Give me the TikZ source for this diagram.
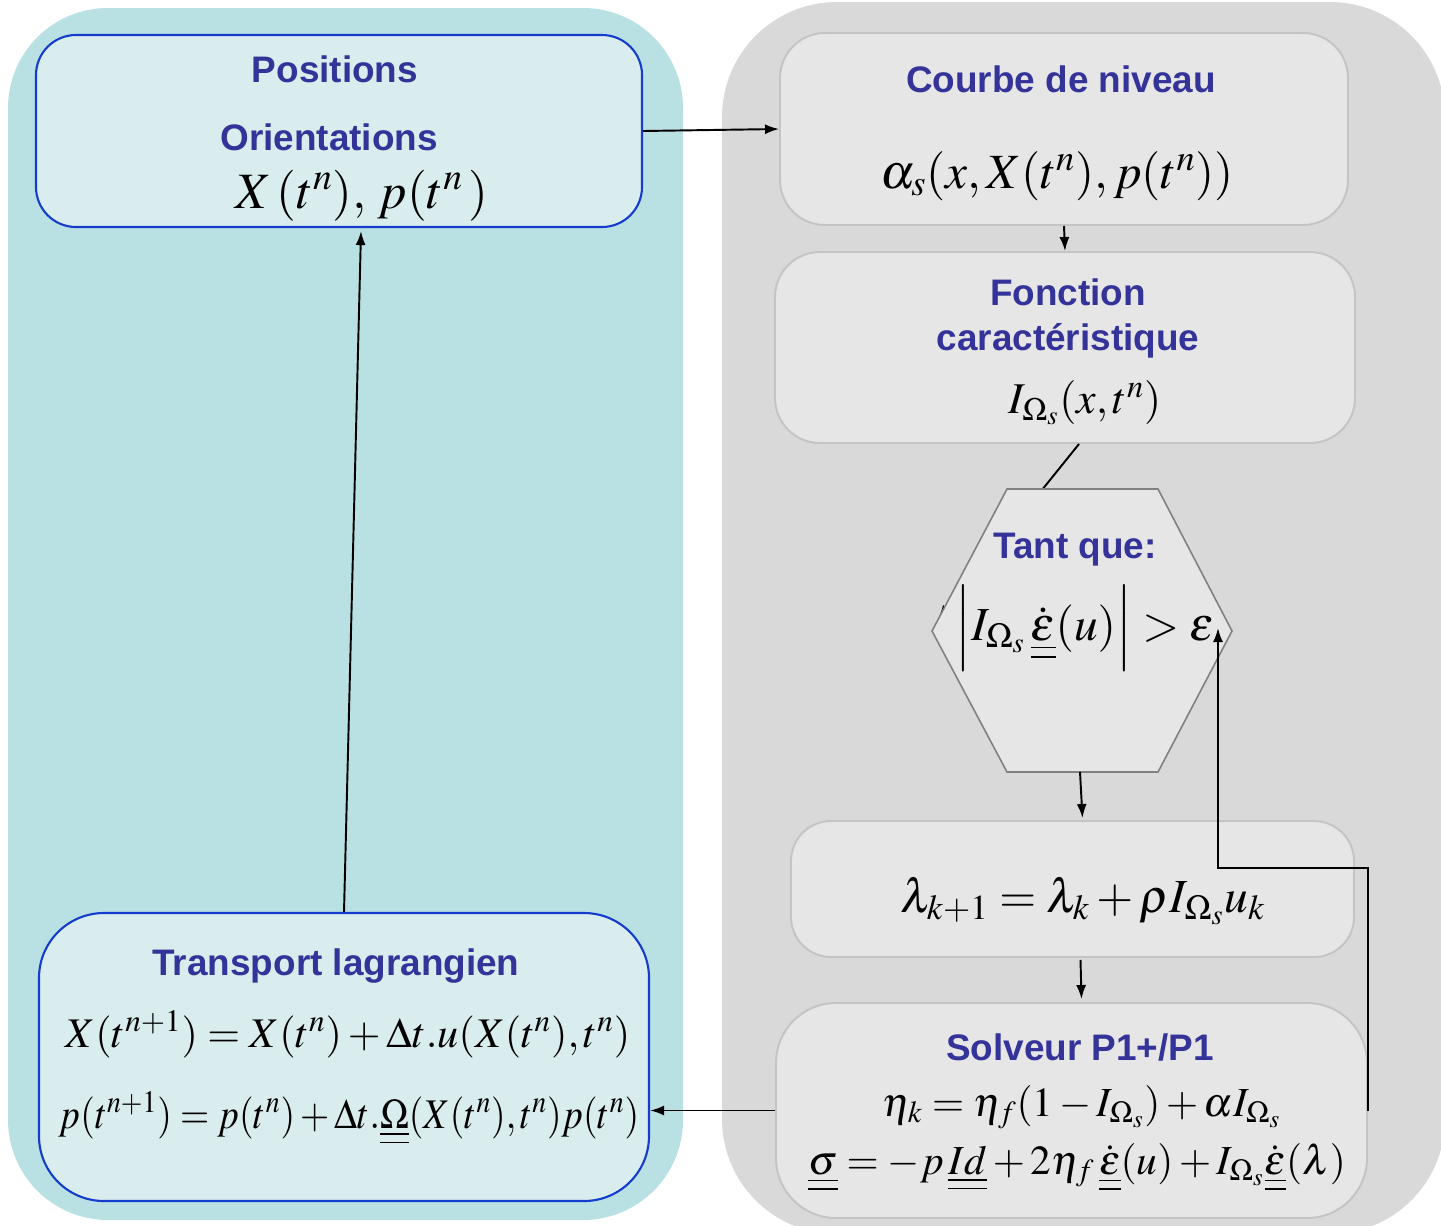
\documentclass[tikz,border=0pt]{standalone}
\usepackage{mathptmx}
\usepackage[no-math]{fontspec}
\setmainfont{Liberation Sans}
\usetikzlibrary{arrows.meta,calc}

\definecolor{leftpanel}{RGB}{185,224,227}
\definecolor{leftbox}{RGB}{218,237,238}
\definecolor{leftborder}{RGB}{20,60,205}
\definecolor{rightpanel}{RGB}{217,217,217}
\definecolor{rightbox}{RGB}{230,230,230}
\definecolor{rightborder}{RGB}{196,196,196}
\definecolor{hexborder}{RGB}{128,128,128}
\definecolor{titleblue}{RGB}{51,51,153}

\newcommand{\dtens}[1]{\underline{\underline{#1}}}

\begin{document}
\begin{tikzpicture}[x=0.2mm, y=-0.2mm, >={Latex[length=2.8mm,width=2mm]},
        bluebox/.style={draw=leftborder, fill=leftbox, line width=1.2pt, inner sep=0pt},
        greybox/.style={draw=rightborder, fill=rightbox, line width=1.1pt, inner sep=0pt},
        title/.style={text=titleblue, font=\fontsize{21}{25}\selectfont\bfseries, inner sep=0pt, anchor=base},
        eq/.style={font=\fontsize{27}{30}\selectfont, inner sep=0pt, anchor=base},
        flow/.style={->, line width=1.1pt}]

        % ==== FRAME ====
        \useasboundingbox (0,0) rectangle (1441,1225);

        % ==== PANELS ====
        \fill[leftpanel, rounded corners=20mm] (8,8) rectangle (683,1220);
        \fill[rightpanel, rounded corners=23mm] (722,2) rectangle (1445,1234);

        % ==== LEFT BOXES ====
        \node[bluebox, rounded corners=8mm, minimum width=121.2mm, minimum height=38.4mm] (pos) at (339,131) {};
        \node[bluebox, rounded corners=13mm, minimum width=122mm, minimum height=57.6mm] (transport) at (344,1057) {};

        % ==== RIGHT BOXES ====
        \node[greybox, rounded corners=9mm, minimum width=113.6mm, minimum height=38.4mm] (courbe) at (1064,129) {};
        \node[greybox, rounded corners=9mm, minimum width=116mm, minimum height=38.2mm] (fonction) at (1065,347.5) {};
        \node[greybox, rounded corners=8mm, minimum width=112.6mm, minimum height=27.2mm] (lambda) at (1072.5,889) {};
        \node[greybox, rounded corners=12mm, minimum width=118.2mm, minimum height=43mm] (solveur) at (1071.5,1110.5) {};

        % ==== HEXAGON (hidden arrow first) ====
        \coordinate (hexin) at (938,619);
        \draw[flow] ($(fonction.south)+(14,0)$) -- (hexin);
        \coordinate (hexA) at (1007,489);
        \coordinate (hexB) at (1158,489);
        \coordinate (hexC) at (1232,631);
        \coordinate (hexD) at (1158,772);
        \coordinate (hexE) at (1007,772);
        \coordinate (hexF) at (932,631);
        \draw[draw=hexborder, fill=rightbox, line width=0.9pt] (hexA) -- (hexB) -- (hexC) -- (hexD) -- (hexE) -- (hexF) -- cycle;
        \coordinate (hexout) at (1080,772);

        % ==== TEXTS ====
        \node[title] (tpos) at (335,82) {Positions};
        \node[title] (tori) at (329,150) {Orientations};
        \node[eq, font=\fontsize{29}{32}\selectfont] (epos) at (362,208) {$X\,(t^n),\, p(t^n\,)$};

        \node[title] (tcourbe) at (1061,92) {Courbe de niveau};
        \node[eq, font=\fontsize{28}{32}\selectfont] (ecourbe) at (1057,188) {$\alpha_s(x, X(t^n), p(t^n))$};

        \node[title] (tfonc) at (1068,305) {Fonction};
        \node[title] (tcar) at (1068,350) {caractéristique};
        \node[eq, font=\fontsize{25}{28}\selectfont] (efonc) at (1085,413) {$I_{\Omega_s}(x,t^n)$};

        \node[title] (ttant) at (1075,558) {Tant que:};
        \node[eq, font=\fontsize{27}{30}\selectfont] (etant) at (1085,640)
            {$\left| I_{\Omega_s}\,\dot{\dtens{\varepsilon}}(u)\right| > \varepsilon$};

        \node[eq, font=\fontsize{27}{30}\selectfont] (elambda) at (1083,912)
            {$\lambda_{k+1} = \lambda_k + \rho I_{\Omega_s} u_k$};

        \node[title] (tsolv) at (1080,1060) {Solveur P1+/P1};
        \node[eq, font=\fontsize{23.5}{28}\selectfont] (esolv1) at (1082,1116)
            {$\eta_k = \eta_f(1 - I_{\Omega_s}) + \alpha I_{\Omega_s}$};
        \node[eq, font=\fontsize{23.5}{28}\selectfont] (esolv2) at (1077,1174)
            {$\dtens{\sigma} = -p\,\dtens{Id} + 2\eta_f\,\dot{\dtens{\varepsilon}}(u) + I_{\Omega_s}\dot{\dtens{\varepsilon}}(\lambda)$};

        \node[title] (ttrans) at (336,975) {Transport lagrangien};
        \node[eq, font=\fontsize{24}{28}\selectfont] (etrans1) at (348,1047)
            {$X(t^{n+1}) = X(t^n) + \Delta t.u(X(t^n),t^n)$};
        \node[eq, font=\fontsize{24}{28}\selectfont] (etrans2) at (349,1128)
            {\scalebox{0.89}[1]{$p(t^{n+1}) = p(t^n) + \Delta t.\dtens{\Omega}(X(t^n),t^n)p(t^n)$}};

        % ==== CONNECTORS ====
        \draw[flow] (pos.east) -- (courbe.west);
        \draw[flow] (courbe.south) -- (fonction.north);
        \draw[flow] (hexout) -- ($(lambda.north)+(10,-2)$);
        \draw[flow] ($(lambda.south)+(8,2)$) -- ($(solveur.north)+(10,-3)$);

        % ==== LOOP BACK ====
        \coordinate (loop) at (1218,868);
        \coordinate (back) at (1218,628);
        \draw[flow] (solveur.east) -- (solveur.east |- loop) -- (loop) -- (back);

        % ==== RETURN TO LEFT ====
        \draw[flow] (solveur.west) -- (solveur.west -| transport.east);
        \draw[flow] (transport.north) -- ($(pos.south)+(22,3)$);
\end{tikzpicture}
\end{document}
